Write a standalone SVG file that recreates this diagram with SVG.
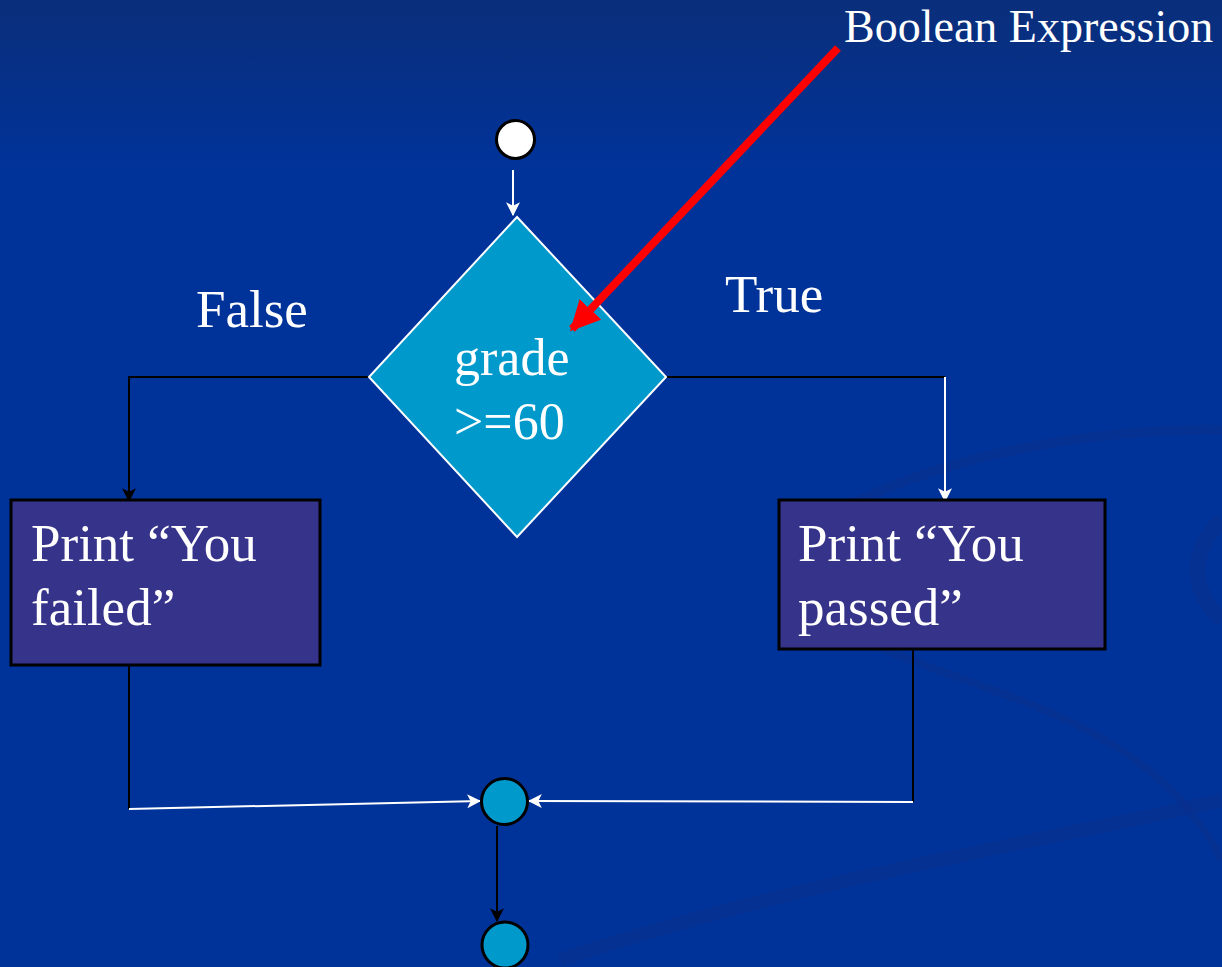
<svg xmlns="http://www.w3.org/2000/svg" width="1222" height="967" viewBox="0 0 1222 967">
<defs>
<linearGradient id="bg" x1="0" y1="0" x2="0" y2="1">
<stop offset="0" stop-color="#0a2e7a"/>
<stop offset="0.18" stop-color="#00339a"/>
<stop offset="1" stop-color="#00339a"/>
</linearGradient>
<marker id="ahW" viewBox="0 0 12 12" refX="11" refY="6" markerWidth="14" markerHeight="14" markerUnits="userSpaceOnUse" orient="auto">
<path d="M0,0 L12,6 L0,12 L3,6 Z" fill="#ffffff"/>
</marker>
<marker id="ahB" viewBox="0 0 12 12" refX="11" refY="6" markerWidth="14" markerHeight="14" markerUnits="userSpaceOnUse" orient="auto">
<path d="M0,0 L12,6 L0,12 L3,6 Z" fill="#000000"/>
</marker>
<marker id="ahR" viewBox="0 0 10 10" refX="9" refY="5" markerWidth="30" markerHeight="30" markerUnits="userSpaceOnUse" orient="auto">
<path d="M0,0 L10,5 L0,10 Z" fill="#ff0000"/>
</marker>
</defs>
<style>
.lbl{font-family:"Liberation Serif","Times New Roman",serif;fill:#ffffff;font-size:53px}
.dlbl{font-size:52px}
.ann{font-size:46px}
.box{fill:#36348a;stroke:#000000;stroke-width:3}
.blk{stroke:#000000;stroke-width:2;fill:none}
.wht{stroke:#ffffff;stroke-width:2;fill:none}
.dot{fill:#0099cc;stroke:#000000;stroke-width:3}
</style>
<rect x="0" y="0" width="1222" height="967" fill="url(#bg)"/>
<g id="background-swoosh" fill="none" stroke="#0a2f8c" stroke-opacity="0.45">
<path d="M820,520 C1000,420 1222,430 1222,430" stroke-width="10"/>
<path d="M860,640 C1000,700 1150,720 1222,860" stroke-width="8"/>
<path d="M560,960 C800,880 1050,840 1222,800" stroke-width="14"/>
<path d="M1222,520 C1180,560 1200,600 1222,620" stroke-width="16"/>
</g>
<g id="connectors">
<line class="wht" x1="513" y1="170" x2="513" y2="215" marker-end="url(#ahW)"/>
<polyline class="blk" points="369,377 129,377 129,501" marker-end="url(#ahB)"/>
<line class="blk" x1="666" y1="377" x2="945" y2="377"/>
<line class="wht" x1="945" y1="377" x2="945" y2="501" marker-end="url(#ahW)"/>
<line class="blk" x1="129" y1="666" x2="129" y2="809"/>
<line class="wht" x1="129" y1="809" x2="480" y2="801" stroke-width="3" marker-end="url(#ahW)"/>
<line class="blk" x1="913" y1="650" x2="913" y2="802"/>
<line class="wht" x1="913" y1="802" x2="529" y2="801" stroke-width="3" marker-end="url(#ahW)"/>
<line class="blk" x1="497" y1="826" x2="497" y2="921" stroke-width="2.5" marker-end="url(#ahB)"/>
</g>
<g id="start">
<circle cx="515.5" cy="139.5" r="19" fill="#ffffff" stroke="#000000" stroke-width="3"/>
</g>
<g id="decision">
<polygon points="517,217 666,377 517,537 369,377" fill="#0099cc" stroke="#ffffff" stroke-width="2"/>
<text class="lbl dlbl" x="454" y="375">grade</text>
<text class="lbl dlbl" x="454" y="439">&gt;=60</text>
</g>
<g id="label-false"><text class="lbl" x="196" y="327">False</text></g>
<g id="label-true"><text class="lbl" x="725" y="312">True</text></g>
<g id="print-failed">
<rect class="box" x="11" y="500" width="309" height="165"/>
<text class="lbl" x="31" y="561">Print “You</text>
<text class="lbl" x="31" y="625">failed”</text>
</g>
<g id="print-passed">
<rect class="box" x="779" y="500" width="326" height="149"/>
<text class="lbl" x="798" y="561">Print “You</text>
<text class="lbl" x="798" y="625">passed”</text>
</g>
<g id="merge">
<circle class="dot" cx="504.5" cy="801.5" r="23"/>
</g>
<g id="end">
<circle class="dot" cx="505" cy="945" r="23"/>
</g>
<g id="annotation">
<line x1="838" y1="48" x2="572" y2="329" stroke="#ff0000" stroke-width="8" marker-end="url(#ahR)"/>
<text class="lbl ann" x="844" y="42">Boolean Expression</text>
</g>
</svg>
